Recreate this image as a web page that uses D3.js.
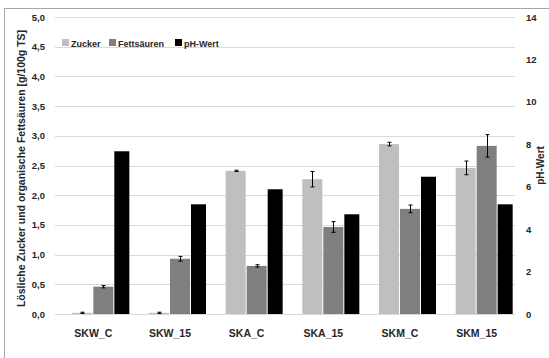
<!DOCTYPE html>
<head>
    <meta charset="utf-8">
    <script src="https://d3js.org/d3.v7.min.js" charset="utf-8"></script>
    <style>
        body { margin:0; background:#fff; }
        text { font-family:"Liberation Sans", Arial, sans-serif; font-weight:bold; fill:#262626; }
    </style>
</head>

<body>
    <div id="container"></div>

    <script>
    // data
    var categories = ["SKW_C", "SKW_15", "SKA_C", "SKA_15", "SKM_C", "SKM_15"];
    var zucker      = [0.02, 0.02, 2.41, 2.27, 2.86, 2.46];
    var zuckerErr   = [0.01, 0.01, 0.01, 0.13, 0.03, 0.115];
    var fett        = [0.46, 0.93, 0.81, 1.465, 1.77, 2.83];
    var fettErr     = [0.02, 0.04, 0.02, 0.09, 0.065, 0.19];
    var ph          = [7.67, 5.17, 5.88, 4.70, 6.47, 5.17];
    var leftTicks   = [0, 0.5, 1, 1.5, 2, 2.5, 3, 3.5, 4, 4.5, 5];
    var rightTicks  = [0, 2, 4, 6, 8, 10, 12, 14];
    var seriesNames = ["Zucker", "Fettsäuren", "pH-Wert"];
    var colors      = ["#bfbfbf", "#7f7f7f", "#000000"];

    var W = 549, H = 358;
    var plot = { left: 55, right: 515, top: 17, bottom: 314 };

    var svg = d3.select("#container")
        .append("svg")
        .attr("width", W)
        .attr("height", H);

    // chart border
    svg.append("rect")
        .attr("x", 4.5).attr("y", 8.5)
        .attr("width", W + 10).attr("height", H + 10)
        .attr("fill", "none")
        .attr("stroke", "#a6a6a6");

    var x = d3.scaleBand().domain(categories).range([plot.left, plot.right]);
    var y = d3.scaleLinear().domain([0, 5]).range([plot.bottom, plot.top]);
    var y2 = d3.scaleLinear().domain([0, 14]).range([plot.bottom, plot.top]);

    // gridlines
    svg.append("g")
        .selectAll("line")
        .data(leftTicks.slice(1))
        .enter().append("line")
        .attr("x1", plot.left).attr("x2", plot.right)
        .attr("y1", function (d) { return Math.round(y(d)) + 0.5; })
        .attr("y2", function (d) { return Math.round(y(d)) + 0.5; })
        .attr("stroke", "#d9d9d9");

    // left axis labels
    var yAxis = d3.axisLeft(y)
        .tickValues(leftTicks)
        .tickSize(0)
        .tickPadding(0)
        .tickFormat(function (d) { return d3.format(".1f")(d).replace(".", ","); });
    var gy = svg.append("g").attr("transform", "translate(45,0)").call(yAxis);
    gy.select(".domain").remove();
    gy.attr("font-family", null).attr("font-size", null);
    gy.selectAll("text").style("font-size", "9.5px").attr("fill", null);

    // right axis labels
    var yAxis2 = d3.axisRight(y2)
        .tickValues(rightTicks)
        .tickSize(0)
        .tickPadding(0);
    var gy2 = svg.append("g").attr("transform", "translate(526,0)").call(yAxis2);
    gy2.select(".domain").remove();
    gy2.attr("font-family", null).attr("font-size", null);
    gy2.selectAll("text").style("font-size", "9.5px").attr("fill", null);

    // bars
    var barW = 20, phW = 15;
    function center(d) { return x(d) + x.bandwidth() / 2; }

    svg.append("g").selectAll("rect")
        .data(categories)
        .enter().append("rect")
        .attr("x", function (d) { return center(d) - 21; })
        .attr("width", barW)
        .attr("y", function (d, i) { return y(zucker[i]); })
        .attr("height", function (d, i) { return plot.bottom - y(zucker[i]); })
        .attr("fill", colors[0]);

    svg.append("g").selectAll("rect")
        .data(categories)
        .enter().append("rect")
        .attr("x", function (d) { return center(d); })
        .attr("width", barW)
        .attr("y", function (d, i) { return y(fett[i]); })
        .attr("height", function (d, i) { return plot.bottom - y(fett[i]); })
        .attr("fill", colors[1]);

    svg.append("g").selectAll("rect")
        .data(categories)
        .enter().append("rect")
        .attr("x", function (d) { return center(d) + 21; })
        .attr("width", phW)
        .attr("y", function (d, i) { return y2(ph[i]); })
        .attr("height", function (d, i) { return plot.bottom - y2(ph[i]); })
        .attr("fill", colors[2]);

    // error bars
    function errorBars(vals, errs, off) {
        var g = svg.append("g").attr("stroke", "#000").attr("stroke-width", 1);
        categories.forEach(function (c, i) {
            var cx = Math.round(center(c) + off) + 0.5;
            var y1 = y(vals[i] + errs[i]), y0 = y(vals[i] - errs[i]);
            g.append("line").attr("x1", cx).attr("x2", cx).attr("y1", y1).attr("y2", y0);
            g.append("line").attr("x1", cx - 2).attr("x2", cx + 2).attr("y1", y1).attr("y2", y1);
            g.append("line").attr("x1", cx - 2).attr("x2", cx + 2).attr("y1", y0).attr("y2", y0);
        });
    }
    errorBars(zucker, zuckerErr, -11);
    errorBars(fett, fettErr, 10);

    // baseline
    svg.append("line")
        .attr("x1", plot.left).attr("x2", plot.right)
        .attr("y1", plot.bottom + 0.5).attr("y2", plot.bottom + 0.5)
        .attr("stroke", "#d9d9d9");

    // category labels
    svg.append("g").selectAll("text")
        .data(categories)
        .enter().append("text")
        .attr("x", function (d) { return center(d); })
        .attr("y", 337)
        .attr("text-anchor", "middle")
        .style("font-size", "10.5px")
        .text(function (d) { return d; });

    // axis titles
    svg.append("text")
        .attr("transform", "translate(25," + ((plot.top + plot.bottom) / 2 + 3) + ") rotate(-90)")
        .attr("text-anchor", "middle")
        .style("font-size", "10.5px")
        .text("Lösliche Zucker und organische Fettsäuren [g/100g TS]");

    svg.append("text")
        .attr("transform", "translate(544," + ((plot.top + plot.bottom) / 2) + ") rotate(-90)")
        .attr("text-anchor", "middle")
        .style("font-size", "10px")
        .text("pH-Wert");

    // legend
    var legendX = [62, 109, 175];
    var lg = svg.append("g");
    seriesNames.forEach(function (s, i) {
        lg.append("rect")
            .attr("x", legendX[i]).attr("y", 39)
            .attr("width", 7).attr("height", 7)
            .attr("fill", colors[i]);
        lg.append("text")
            .attr("x", legendX[i] + 9).attr("y", 46.5)
            .style("font-size", "9px")
            .text(s);
    });
    </script>
</body>
